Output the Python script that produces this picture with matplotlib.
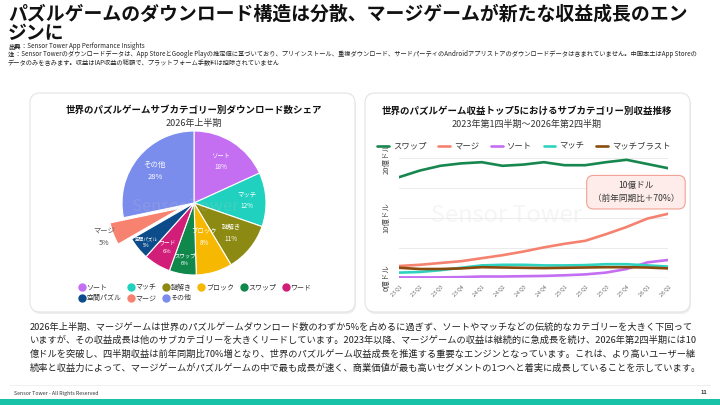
import matplotlib
matplotlib.use("Agg")
import numpy as np
import matplotlib.pyplot as plt
from matplotlib.patches import FancyBboxPatch, Rectangle
from matplotlib.lines import Line2D

plt.rcParams["font.family"] = ["Noto Sans CJK JP", "DejaVu Sans"]

# ---- data ----
pie_labels = ["ソート", "マッチ", "謎解き", "ブロック", "スワップ", "ワード", "空間パズル", "マージ", "その他"]
pie_shares = [18, 12, 11, 8, 6, 6, 5, 5, 28]
pie_colors = ["#C46EF2", "#1FD1BE", "#8C8A12", "#F6B800", "#10884C", "#D11E78", "#0C4C8A", "#F7826F", "#7A8CEC"]

quarters = ["23 Q1", "23 Q2", "23 Q3", "23 Q4", "24 Q1", "24 Q2", "24 Q3", "24 Q4",
            "25 Q1", "25 Q2", "25 Q3", "25 Q4", "26 Q1", "26 Q2"]
swap = [16.8, 17.9, 18.7, 19.1, 19.3, 18.7, 18.9, 19.3, 18.8, 18.8, 19.3, 19.7, 19.0, 18.3]
merge = [2.0, 2.2, 2.5, 2.8, 3.3, 3.8, 4.4, 5.1, 5.7, 6.2, 7.3, 8.5, 9.9, 10.7]
sort_ = [0.1, 0.1, 0.1, 0.15, 0.25, 0.25, 0.3, 0.35, 0.45, 0.6, 0.9, 1.5, 2.6, 3.0]
match = [0.9, 1.0, 1.3, 1.7, 2.1, 2.2, 2.2, 2.1, 2.1, 2.15, 2.3, 2.3, 2.1, 1.9]
match_blast = [1.7, 1.5, 1.5, 1.6, 1.8, 1.75, 1.7, 1.65, 1.7, 1.75, 1.8, 1.8, 1.75, 1.6]
line_names = ["スワップ", "マージ", "ソート", "マッチ", "マッチブラスト"]
line_colors = ["#17874F", "#F5826E", "#C46EF2", "#2ED3C0", "#8A4B0F"]

W, H = 720, 405
fig = plt.figure(figsize=(7.2, 4.05), dpi=100)


def fx(px):
    return px / W


def fy(py):
    return 1 - py / H


# background layer in pixel coordinates
bg = fig.add_axes([0, 0, 1, 1], zorder=0)
bg.set_xlim(0, W)
bg.set_ylim(H, 0)
bg.axis("off")

for x0 in (30, 365):
    bg.add_patch(FancyBboxPatch((x0 + 1, 95), 325, 219, boxstyle="round,pad=0,rounding_size=10",
                                fc="#eeeeee", ec="none"))
    bg.add_patch(FancyBboxPatch((x0, 93), 325, 219, boxstyle="round,pad=0,rounding_size=10",
                                fc="white", ec="#e4e4e4", lw=0.8))

bg.plot([10, 710], [385, 385], color="#eeeeee", lw=0.6)
bg.add_patch(Rectangle((0, 399), W, 6, fc="#17C2A8", ec="none"))

# ---- texts ----
fig.text(fx(8), fy(14), "パズルゲームのダウンロード構造は分散、マージゲームが新たな収益成長のエン",
         fontsize=13.6, fontweight="bold", va="center", color="#111111")
fig.text(fx(8), fy(33), "ジンに", fontsize=13.6, fontweight="bold", va="center", color="#111111")
fig.text(fx(8), fy(46), "出典", fontsize=4.5, fontweight="bold", va="center", color="#222222")
fig.text(fx(21), fy(46), "：Sensor Tower App Performance Insights", fontsize=4.5, va="center", color="#222222")
fig.text(fx(8), fy(54), "注", fontsize=4.5, fontweight="bold", va="center", color="#222222")
fig.text(fx(14.5), fy(54),
         "：Sensor Towerのダウンロードデータは、App StoreとGoogle Playの推定値に基づいており、プリインストール、重複ダウンロード、"
         "サードパーティのAndroidアプリストアのダウンロードデータは含まれていません。中国本土はApp Storeの",
         fontsize=4.5, va="center", color="#222222")
fig.text(fx(8), fy(62), "データのみを含みます。収益はIAP収益の総額で、プラットフォーム手数料は控除されていません",
         fontsize=4.5, va="center", color="#222222")

body = [
    "2026年上半期、マージゲームは世界のパズルゲームダウンロード数のわずか5%を占めるに過ぎず、ソートやマッチなどの伝統的なカテゴリーを大きく下回って",
    "いますが、その収益成長は他のサブカテゴリーを大きくリードしています。2023年以降、マージゲームの収益は継続的に急成長を続け、2026年第2四半期には10",
    "億ドルを突破し、四半期収益は前年同期比70%増となり、世界のパズルゲーム収益成長を推進する重要なエンジンとなっています。これは、より高いユーザー継",
    "続率と収益力によって、マージゲームがパズルゲームの中で最も成長が速く、商業価値が最も高いセグメントの1つへと着実に成長していることを示しています。",
]
for i, line in enumerate(body):
    fig.text(fx(30), fy(327 + i * 13.7), line, fontsize=6.65, va="center", color="#222222")

fig.text(fx(14), fy(393), "Sensor Tower - All Rights Reserved", fontsize=3.8, va="center", color="#333333")
fig.text(fx(707), fy(393), "11", fontsize=4, va="center", ha="right", fontweight="bold", color="#333333")

# ---- pie chart ----
fig.text(fx(194), fy(110), "世界のパズルゲームサブカテゴリー別ダウンロード数シェア",
         fontsize=6.8, fontweight="bold", ha="center", va="center", color="#111111")
fig.text(fx(194), fy(123), "2026年上半期", fontsize=6.5, ha="center", va="center", color="#333333")

cx, cy, half = 194, 203, 90
pax = fig.add_axes([fx(cx - half), fy(cy + half), 2 * half / W, 2 * half / H], zorder=2)
explode = [0.2 if lab == "マージ" else 0 for lab in pie_labels]
wedges, _ = pax.pie(pie_shares, colors=pie_colors, startangle=90, counterclock=False,
                    explode=explode, radius=1,
                    wedgeprops=dict(edgecolor="white", linewidth=0.8))
pax.set_xlim(-1.25, 1.25)
pax.set_ylim(-1.25, 1.25)
pax.set_aspect("equal")
pax.text(-0.12, -0.05, "Sensor Tower", fontsize=12, color="#cccccc", alpha=0.18,
         ha="center", va="center", zorder=5)

# label distance from centre, as a fraction of the radius
label_r = {"ソート": 0.69, "マッチ": 0.74, "謎解き": 0.66, "ブロック": 0.5, "スワップ": 0.8,
           "ワード": 0.72, "空間パズル": 0.86, "その他": 0.7}
label_fs = {"ソート": 4.6, "マッチ": 4.6, "謎解き": 4.6, "ブロック": 4.6, "スワップ": 3.9,
            "ワード": 4.2, "空間パズル": 3.3, "その他": 5.4}
for w, lab, val in zip(wedges, pie_labels, pie_shares):
    ang = np.deg2rad((w.theta1 + w.theta2) / 2)
    if lab == "マージ":
        r = 1.33
        pax.text(r * np.cos(ang), r * np.sin(ang), f"{lab}\n{val}%", fontsize=5.2,
                 ha="center", va="center", color="#555555", linespacing=1.6)
        continue
    r = label_r[lab]
    pax.text(r * np.cos(ang), r * np.sin(ang), f"{lab}\n{val}%", fontsize=label_fs[lab],
             ha="center", va="center", color="white", linespacing=1.6)

# legend in row-major order for 6 columns
order = [0, 6, 1, 7, 2, 8, 3, 4, 5]
handles = [Line2D([], [], marker="o", ls="none", markersize=5, color=pie_colors[i]) for i in order]
fig.legend(handles, [pie_labels[i] for i in order], ncol=6, loc="center left",
           bbox_to_anchor=(fx(72), fy(293)), frameon=False, fontsize=5.0,
           handletextpad=0.15, columnspacing=0.9, labelspacing=0.35, handlelength=1.0,
           labelcolor="#333333")

# ---- line chart ----
fig.text(fx(527), fy(111), "世界のパズルゲーム収益トップ5におけるサブカテゴリー別収益推移",
         fontsize=6.8, fontweight="bold", ha="center", va="center", color="#111111")
fig.text(fx(527), fy(124), "2023年第1四半期～2026年第2四半期", fontsize=6.5,
         ha="center", va="center", color="#333333")

x0p, x1p, y0p = 399, 668, 278
ymax = 21
ytop = y0p - ymax * 6
lax = fig.add_axes([fx(x0p), fy(y0p), (x1p - x0p) / W, (y0p - ytop) / H], zorder=2)
xs = list(range(len(quarters)))
series = [swap, merge, sort_, match, match_blast]
for name, col, vals in zip(line_names, line_colors, series):
    lax.plot(xs, vals, color=col, lw=1.9, label=name, solid_capstyle="round", zorder=3)
lax.set_xlim(0, len(quarters) - 1)
lax.set_ylim(0, ymax)
lax.set_yticks([0, 5, 10, 15, 20])
lax.set_yticklabels(["0億ドル", "", "10億ドル", "", "20億ドル"], rotation=90, va="center",
                    fontsize=5.4, color="#444444")
lax.set_xticks(xs)
lax.set_xticklabels(quarters, rotation=45, fontsize=3.8, color="#666666", ha="right",
                    rotation_mode="anchor")
lax.tick_params(length=0, pad=4)
lax.tick_params(axis="y", pad=6)
lax.grid(axis="y", color="#e8e8e8", lw=0.6)
lax.axhline(0, color="#888888", lw=0.8, zorder=2)
for s in lax.spines.values():
    s.set_visible(False)
lax.set_facecolor("none")
lax.text(5.2, 10.5, "Sensor Tower", fontsize=17, color="#cccccc", alpha=0.18,
         ha="center", va="center", zorder=1)

lax.text(11.45, 14.3, "10億ドル\n（前年同期比＋70%）", fontsize=6.2, ha="center", va="center",
         color="#333333", linespacing=1.5, zorder=5,
         bbox=dict(boxstyle="round,pad=0.7,rounding_size=0.8", fc="#FDECE9", ec="#F2A293", lw=0.8))

fig.legend(*lax.get_legend_handles_labels(), ncol=5, loc="center",
           bbox_to_anchor=(fx(524), fy(146)), frameon=False, fontsize=6.0,
           handlelength=1.4, handletextpad=0.5, columnspacing=1.4, labelcolor="#333333")

fig.savefig("out.png", dpi=100)
